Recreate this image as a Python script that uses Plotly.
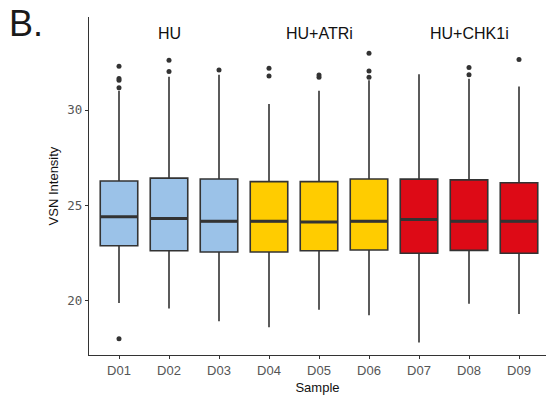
import plotly.graph_objects as go

samples = ["D01", "D02", "D03", "D04", "D05", "D06", "D07", "D08", "D09"]
groups = ["HU", "HU", "HU", "HU+ATRi", "HU+ATRi", "HU+ATRi", "HU+CHK1i", "HU+CHK1i", "HU+CHK1i"]
q1 = [22.89, 22.63, 22.56, 22.56, 22.63, 22.67, 22.50, 22.65, 22.50]
median = [24.41, 24.32, 24.17, 24.17, 24.14, 24.17, 24.27, 24.17, 24.17]
q3 = [26.28, 26.43, 26.39, 26.25, 26.25, 26.39, 26.38, 26.34, 26.19]
lower = [19.89, 19.60, 18.94, 18.62, 19.54, 19.25, 17.82, 19.85, 19.32]
upper = [31.01, 31.74, 31.85, 30.31, 31.01, 31.56, 31.87, 31.63, 31.23]
outliers = {
    "D01": [32.29, 31.65, 31.56, 31.17, 18.02],
    "D02": [32.61, 32.02],
    "D03": [32.09],
    "D04": [32.18, 31.78],
    "D05": [31.83, 31.71],
    "D06": [32.97, 32.04, 31.71],
    "D07": [],
    "D08": [32.22, 31.85],
    "D09": [32.64],
}
group_names = ["HU", "HU+ATRi", "HU+CHK1i"]
group_colors = {"HU": "#9BC2E8", "HU+ATRi": "#FFCC00", "HU+CHK1i": "#DD0A16"}
group_label_pos = {"HU": "D02", "HU+ATRi": "D05", "HU+CHK1i": "D08"}

BOX_W = 0.75
LINE = "#333333"
SANS = "Liberation Sans, Arial"

fig = go.Figure()
for g in group_names:
    idx = [i for i, gg in enumerate(groups) if gg == g]
    fig.add_trace(go.Box(
        x=idx,
        q1=[q1[i] for i in idx],
        median=[median[i] for i in idx],
        q3=[q3[i] for i in idx],
        lowerfence=[lower[i] for i in idx],
        upperfence=[upper[i] for i in idx],
        fillcolor=group_colors[g],
        line=dict(color=LINE, width=1.6),
        whiskerwidth=0,
        width=BOX_W,
        boxpoints=False,
        showlegend=False,
        hoverinfo="skip",
    ))

# thicker median lines (ggplot style)
mx, my = [], []
for i, m in enumerate(median):
    mx += [i - BOX_W / 2, i + BOX_W / 2, None]
    my += [m, m, None]
fig.add_trace(go.Scatter(x=mx, y=my, mode="lines",
                         line=dict(color=LINE, width=3),
                         showlegend=False, hoverinfo="skip"))

ox, oy = [], []
for i, s in enumerate(samples):
    for v in outliers[s]:
        ox.append(i)
        oy.append(v)
fig.add_trace(go.Scatter(x=ox, y=oy, mode="markers",
                         marker=dict(color=LINE, size=5),
                         showlegend=False, hoverinfo="skip"))

for g in group_names:
    fig.add_annotation(x=samples.index(group_label_pos[g]), y=1.0, yref="paper",
                       yshift=-16, yanchor="middle", text=g, showarrow=False,
                       font=dict(family=SANS, size=16, color="#111111"))

fig.add_annotation(xref="paper", yref="paper", x=-82 / 457, y=1.0, yshift=-6,
                   xanchor="left", yanchor="middle", text="B.", showarrow=False,
                   font=dict(family=SANS, size=36, color="#1a1a1a"))

fig.update_layout(
    width=546, height=399,
    margin=dict(l=89, r=0, t=17, b=44),
    paper_bgcolor="white", plot_bgcolor="white",
    xaxis=dict(
        range=[-0.6, 8.54],
        tickmode="array", tickvals=list(range(len(samples))), ticktext=samples,
        showline=True, linecolor="#333333", linewidth=1.2,
        ticks="outside", ticklen=3, tickcolor="#333333",
        showgrid=False, zeroline=False,
        tickfont=dict(family=SANS, size=13, color="#555555"),
        title=dict(text="Sample", font=dict(family=SANS, size=13, color="#111111"),
                   standoff=6),
    ),
    yaxis=dict(
        range=[17.17, 34.87],
        tickvals=[20, 25, 30],
        showline=True, linecolor="#333333", linewidth=1.2,
        ticks="outside", ticklen=3, tickcolor="#333333",
        showgrid=False, zeroline=False,
        tickfont=dict(family="DejaVu Sans Mono", size=12.5, color="#555555"),
        title=dict(text="VSN Intensity", font=dict(family=SANS, size=13, color="#111111"),
                   standoff=5),
    ),
)

fig.write_html("out.html")
